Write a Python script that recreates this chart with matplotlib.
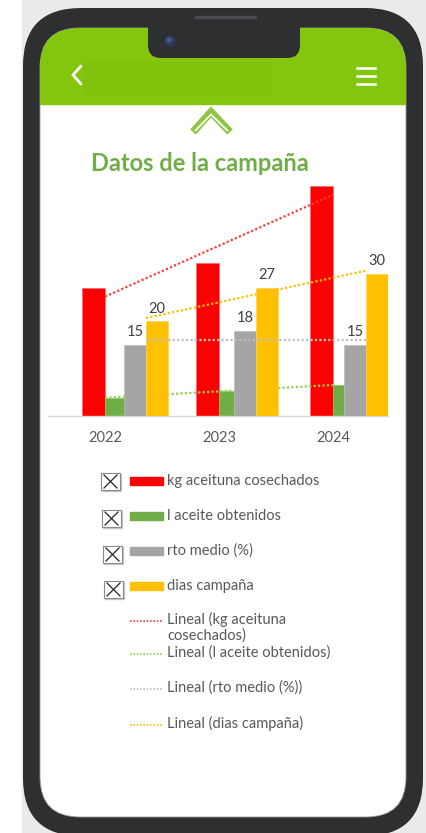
import numpy as np
import matplotlib
matplotlib.use("Agg")
import matplotlib.pyplot as plt
from matplotlib.patches import FancyBboxPatch, Rectangle, Circle

plt.rcParams["font.family"] = ["Lato", "DejaVu Sans"]

# campaign data
years = ["2022", "2023", "2024"]
kg_aceituna = [27.0, 32.3, 48.5]
l_aceite = [3.8, 5.3, 6.5]
rto_medio = [15, 18, 15]
dias_campana = [20, 27, 30]

series_names = ["kg aceituna cosechados", "l aceite obtenidos", "rto medio (%)", "dias campaña"]
trend_names = ["Lineal (kg aceituna\ncosechados)", "Lineal (l aceite obtenidos)",
               "Lineal (rto medio (%))", "Lineal (dias campaña)"]

RED, GREEN, GREY, GOLD = "#ff0000", "#70ad47", "#a5a5a5", "#ffc000"
TREND = ["#ff3b3b", "#92d050", "#bfbfbf", "#ffc000"]
TEXT = "#595959"
HEADER = "#84c50e"

W, H = 426, 833
fig = plt.figure(figsize=(W / 100, H / 100), dpi=100)

# phone mockup, drawn in pixel coordinates
frame = fig.add_axes([0, 0, 1, 1])
frame.set_xlim(0, W)
frame.set_ylim(H, 0)
frame.axis("off")
frame.add_patch(Rectangle((22, 0), W - 22, H, color="#e9eaec", zorder=0))
frame.add_patch(FancyBboxPatch((23, 8), 400, 828, boxstyle="round,pad=0,rounding_size=58",
                               fc="#2e2f31", ec="none", zorder=1))
screen = FancyBboxPatch((40, 28), 366, 789, boxstyle="round,pad=0,rounding_size=40",
                        fc="white", ec="#9a9a9a", lw=0.6, zorder=2)
frame.add_patch(screen)
head = Rectangle((40, 28), 366, 76, color=HEADER, zorder=3)
frame.add_patch(head)
head.set_clip_path(screen)
frame.add_patch(Rectangle((83, 62), 187, 33, color="#81c20d", zorder=3.5))

# notch, camera and speaker
notch = FancyBboxPatch((148, 10), 152, 48, boxstyle="round,pad=0,rounding_size=13",
                       fc="#2e2f31", ec="none", zorder=4)
frame.add_patch(notch)
frame.add_patch(Circle((170, 41), 5, color="#2c3a5c", zorder=5))
frame.add_patch(Circle((169, 40), 2, color="#4a5a80", zorder=5))
frame.plot([196, 255], [17, 17], color="#4b4c4f", lw=2.5, solid_capstyle="round", zorder=5)

# header icons
frame.plot([81, 73, 81], [66, 75, 84], color="white", lw=2.0, zorder=5,
           solid_capstyle="round", solid_joinstyle="miter")
for yy, x0 in [(68, 360), (76, 357), (84, 357)]:
    frame.plot([x0, 375], [yy, yy], color="white", lw=1.8, zorder=5)
frame.plot([357, 358], [68, 68], color="white", lw=1.8, zorder=5)

# scroll-up chevron
frame.plot([193, 211, 230], [132, 112, 132], color="#8dc63f", lw=5.5, zorder=5,
           solid_joinstyle="miter", solid_capstyle="butt")
frame.plot([195, 211, 228], [131, 114.5, 131], color="white", lw=1.3, zorder=6,
           solid_joinstyle="miter", solid_capstyle="butt")

frame.text(200, 163, "Datos de la campaña", color=GREEN, fontsize=17, fontweight="bold",
           ha="center", va="center", zorder=6)

# chart: primary axis holds kg/l, secondary holds rto/dias
px_left, px_right, px_base, px_top = 48, 388, 416, 179
ax = fig.add_axes([px_left / W, (H - px_base) / H, (px_right - px_left) / W, (px_base - px_top) / H])
ax.patch.set_alpha(0)
ax.set_ylim(0, (px_base - px_top) / 4.74)
ax.set_xlim((px_left - 105) / 114, (px_right - 105) / 114)
ax2 = ax.twiny()
ax2.set_xlim((px_left - 146) / 110, (px_right - 146) / 110)

x = np.arange(len(years))
ax.bar(x, kg_aceituna, width=-0.2, align="edge", color=RED, ec="#ff6b6b", lw=0.5, zorder=2)
ax.bar(x, l_aceite, width=0.2, align="edge", color=GREEN, ec="#8cc46a", lw=0.5, zorder=2)
ax2.bar(x, rto_medio, width=-0.2, align="edge", color=GREY, ec="#bdbdbd", lw=0.5, zorder=2)
ax2.bar(x, dias_campana, width=0.2, align="edge", color=GOLD, ec="#ffd24d", lw=0.5, zorder=2)

# linear trendlines
for axis, vals, col in [(ax, kg_aceituna, TREND[0]), (ax, l_aceite, TREND[1]),
                        (ax2, rto_medio, TREND[2]), (ax2, dias_campana, TREND[3])]:
    slope, icpt = np.polyfit(x, vals, 1)
    xs = np.array([x[0], x[-1]])
    axis.plot(xs, icpt + slope * xs, color=col, lw=1.6, ls=(0, (1, 1)), zorder=3)

for vals, off in [(rto_medio, -0.1), (dias_campana, 0.1)]:
    for xi, v in zip(x, vals):
        ax2.annotate(f"{v}", (xi + off, v), xytext=(0, 4), textcoords="offset points",
                     ha="center", va="bottom", fontsize=10.5, color="#404040")

ax.set_xticks(x)
ax.set_xticklabels(years, fontsize=10.5, color=TEXT)
ax.tick_params(axis="x", length=0, pad=10.5)
ax.set_yticks([])
for s in ["left", "right", "top"]:
    ax.spines[s].set_visible(False)
ax.spines["bottom"].set_color("#d9d9d9")
ax.spines["bottom"].set_linewidth(1)
ax2.axis("off")

# legend
box_pos = [(101, 473), (102, 510), (103, 546), (104, 581)]
row_y = [481, 516, 551, 586]
for (bx, by), yy, col, name in zip(box_pos, row_y, [RED, GREEN, GREY, GOLD], series_names):
    frame.add_patch(Rectangle((bx + 1, by + 1), 19, 17, fc="none", ec="#c8c8c8", lw=1, zorder=5))
    frame.add_patch(Rectangle((bx, by), 19, 17, fc="white", ec="#8a8a8a", lw=0.8, zorder=5))
    frame.plot([bx + 3, bx + 16], [by + 2, by + 15], color="#222222", lw=0.9, zorder=6)
    frame.plot([bx + 3, bx + 16], [by + 15, by + 2], color="#222222", lw=0.9, zorder=6)
    frame.add_patch(Rectangle((130, yy - 4), 33, 8, color=col, zorder=5))
    frame.text(167, yy, name, fontsize=10.5, color=TEXT, va="center", ha="left", zorder=6)

trend_y = [621, 654, 689, 725]
for yy, col, name in zip(trend_y, TREND, trend_names):
    frame.plot([130, 163], [yy, yy], color=col, lw=1.2, ls=(0, (1, 1)), zorder=5)
    frame.text(167, yy - 9, name, fontsize=10.5, color=TEXT, va="top", ha="left",
               linespacing=1.1, zorder=6)

fig.savefig("out.png", dpi=100)
